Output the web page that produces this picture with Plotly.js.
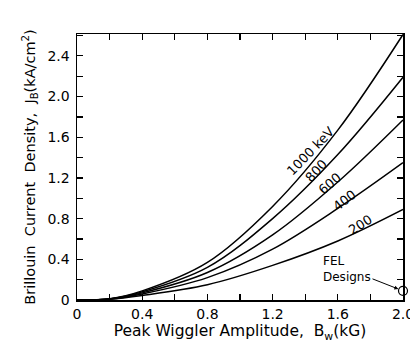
<!DOCTYPE html>
<html><head><meta charset="utf-8">
<script src="https://cdn.plot.ly/plotly-3.0.1.min.js"></script>
<style>html,body{margin:0;padding:0;background:#fff;}#chart{width:410px;height:344px;}</style>
</head><body><div id="chart"></div>
<script>
const bw = [0, 0.2, 0.4, 0.8, 1.2, 1.6, 2.0];
const series = ["1000 keV", "800", "600", "400", "200"];
const j1000 = [0, 0.012, 0.09, 0.37, 0.92, 1.67, 2.61];
const j800  = [0, 0.011, 0.08, 0.32, 0.80, 1.43, 2.19];
const j600  = [0, 0.010, 0.07, 0.27, 0.64, 1.16, 1.77];
const j400  = [0, 0.009, 0.06, 0.22, 0.50, 0.90, 1.35];
const j200  = [0, 0.008, 0.045, 0.15, 0.34, 0.58, 0.89];
const felX = [2.0], felY = [0.09];
const xTickVals = [0, 0.4, 0.8, 1.2, 1.6, 2.0];
const xTickText = ["0", "0.4", "0.8", "1.2", "1.6", "2.0"];
const yTickVals = [0, 0.4, 0.8, 1.2, 1.6, 2.0, 2.4];
const yTickText = ["0", "0.4", "0.8", "1.2", "1.6", "2.0", "2.4"];
const labelPos = [[1.43,1.46,-46],[1.47,1.27,-47],[1.55,1.15,-40],[1.64,0.98,-38],[1.74,0.74,-32]];

const ys = [j1000,j800,j600,j400,j200];
const traces = ys.map((y,i)=>({x:bw,y:y,type:'scatter',mode:'lines',name:series[i],
  line:{color:'#000',width:1.5,shape:'spline',smoothing:1},showlegend:false}));
traces.push({x:felX,y:felY,type:'scatter',mode:'markers',cliponaxis:false,showlegend:false,
  marker:{symbol:'circle',size:9,color:'#fff',line:{color:'#000',width:1.2}}});

const F = 'DejaVu Sans, Arial, sans-serif';
const ann = series.map((s,i)=>({x:labelPos[i][0],y:labelPos[i][1],text:s,textangle:labelPos[i][2],
  showarrow:false,font:{family:F,size:13,color:'#000'}}));
ann.push({x:2.0,y:0.09,text:'FEL<br>Designs',showarrow:true,ax:-56,ay:-22,arrowhead:2,arrowsize:0.8,
  arrowwidth:1,arrowcolor:'#000',standoff:5,font:{family:F,size:12,color:'#000'},align:'left'});

const axisCommon = {showgrid:false,zeroline:false,showline:true,linecolor:'#000',linewidth:1.5,mirror:'ticks',
  ticks:'inside',ticklen:6,tickcolor:'#000',tickwidth:1.2,tickmode:'array',
  minor:{ticks:'inside',ticklen:6,tickcolor:'#000',tickwidth:1.2,tickmode:'linear',dtick:0.2,tick0:0,showgrid:false},
  ticklabeloverflow:'allow',
  tickfont:{family:F,size:14,color:'#000'}};

const layout = {width:410,height:344,margin:{l:77,r:7,t:34,b:44},paper_bgcolor:'#fff',plot_bgcolor:'#fff',
  xaxis:Object.assign({},axisCommon,{range:[0,2.0],tickvals:xTickVals,ticktext:xTickText,ticklabelstandoff:1,
    title:{text:'Peak Wiggler Amplitude,  B<sub>w</sub>(kG)',font:{family:F,size:15.5,color:'#000'},standoff:4}}),
  yaxis:Object.assign({},axisCommon,{range:[0,2.615],tickvals:yTickVals,ticktext:yTickText,ticklabelstandoff:3,
    title:{text:'Brillouin  Current  Density,  J<sub>B</sub>(kA/cm<sup>2</sup>)',font:{family:F,size:14.5,color:'#000'},standoff:8}}),
  annotations:ann};
Plotly.newPlot('chart',traces,layout,{staticPlot:true,displayModeBar:false});
</script></body></html>
